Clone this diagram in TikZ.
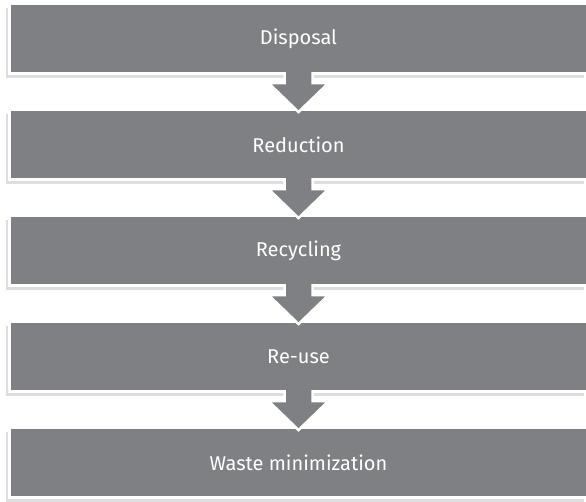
\documentclass[tikz,border=0pt]{standalone}
\usepackage{fontspec}
\setmainfont{Fira Sans}
\usetikzlibrary{calc,shadows}

\definecolor{stepgray}{RGB}{127,128,132}
\definecolor{shadegray}{RGB}{222,222,224}

\tikzset{
  stagebox/.style={
    rectangle, fill=stepgray, draw=white, line width=3pt, outer sep=0pt,
    minimum width=578pt, minimum height=70pt, inner sep=0pt,
    text=white, font=\fontsize{20}{24}\selectfont,
    drop shadow={shadow xshift=-3.5pt, shadow yshift=-4pt, fill=shadegray, opacity=1}
  },
  blockarrow/.style={fill=stepgray, draw=white, line width=2.5pt, line join=miter}
}

\begin{document}
\begin{tikzpicture}[x=1pt,y=-1pt]
  \useasboundingbox[fill=white] (0,0) rectangle (586,501);

  % the five stages, top to bottom
  \node[stagebox] (disposal)  at (298.5,38.5)  {Disposal};
  \node[stagebox] (reduction) at (298.5,144.5) {Reduction};
  \node[stagebox] (recycling) at (298.5,250.5) {Recycling};
  \node[stagebox] (reuse)     at (298.5,356.5) {Re-use};
  \node[stagebox] (waste)     at (298.5,462.5) {Waste minimization};

  % block arrows joining each stage to the next
  \foreach \a/\b in {disposal/reduction, reduction/recycling, recycling/reuse, reuse/waste}{
    \path[blockarrow]
      ($(\a.south)+(-14,-1.5)$) -- ($(\a.south)+(-14,9.5)$) -- ($(\a.south)+(-30,9.5)$)
      -- ($(\b.north)+(0,2.5)$)
      -- ($(\a.south)+(30,9.5)$) -- ($(\a.south)+(14,9.5)$) -- ($(\a.south)+(14,-1.5)$);
  }
\end{tikzpicture}
\end{document}
